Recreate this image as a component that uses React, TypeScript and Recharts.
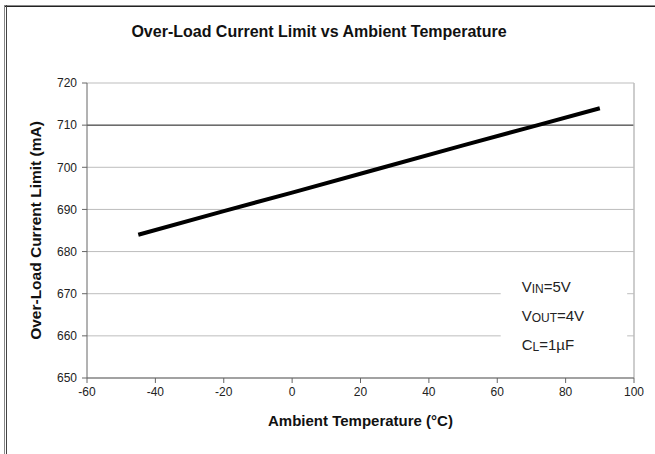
import React from 'react';
import {
  LineChart,
  Line,
  XAxis,
  YAxis,
  CartesianGrid,
  ReferenceLine,
  ReferenceArea,
  Label,
} from 'recharts';

// ambient temperature (°C) and measured limit (mA)
const temperature = [-45, -20, 0, 25, 50, 70, 90];
const currentLimit = [684, 689.6, 694, 699.6, 705.2, 709.6, 714];

const xTicks = [-60, -40, -20, 0, 20, 40, 60, 80, 100];
const yTicks = [650, 660, 670, 680, 690, 700, 710, 720];

const data = temperature.map((t, i) => ({ t, mA: currentLimit[i] }));

const FONT = '"Liberation Sans", Arial, sans-serif';

const renderNote = ({ viewBox }: any) => {
  const x = viewBox.x + 21;
  const y = viewBox.y;
  const lines: [string, string, string][] = [
    ['V', 'IN', '=5V'],
    ['V', 'OUT', '=4V'],
    ['C', 'L', '=1\u00B5F'],
  ];
  return (
    <g>
      {lines.map(([a, sub, b], i) => (
        <text
          key={i}
          x={x}
          y={y + 5 + i * 29}
          fontFamily={FONT}
          fontSize={15}
          fill="#222"
          dominantBaseline="central"
        >
          <tspan>{a}</tspan>
          <tspan fontSize={12} dy={3}>{sub}</tspan>
          <tspan dy={-3}>{b}</tspan>
        </text>
      ))}
    </g>
  );
};

const OverLoadChart: React.FC = () => {
  return (
    <div style={{ position: 'absolute', left: 0, top: 0, width: 655, height: 454, background: '#fff' }}>
      {/* frame */}
      <div style={{ position: 'absolute', left: 4, top: 5, right: 0, height: 1, background: '#888' }} />
      <div style={{ position: 'absolute', left: 4, top: 6, right: 0, height: 1, background: '#222' }} />
      <div style={{ position: 'absolute', left: 4, top: 5, bottom: 0, width: 1, background: '#888' }} />
      <div style={{ position: 'absolute', left: 6, top: 5, bottom: 0, width: 1, background: '#444' }} />
      <div
        style={{
          position: 'absolute',
          left: 0,
          width: 638,
          top: 23,
          textAlign: 'center',
          fontFamily: FONT,
          fontWeight: 'bold',
          fontSize: 16,
          color: '#111',
        }}
      >
        Over-Load Current Limit vs Ambient Temperature
      </div>
      <LineChart
        width={655}
        height={454}
        data={data}
        margin={{ top: 83, right: 21, bottom: 46, left: 27 }}
        style={{ position: 'absolute', left: 0, top: 0 }}
      >
        <CartesianGrid horizontal vertical={false} stroke="#bdbdbd" strokeWidth={1} />
        <ReferenceLine y={710} stroke="#333" strokeWidth={1} />
        <ReferenceLine x={100} stroke="#bdbdbd" strokeWidth={1.5} />
        <XAxis
          dataKey="t"
          type="number"
          domain={[-60, 100]}
          ticks={xTicks}
          height={30}
          stroke="#666"
          tickSize={5}
          tickMargin={4}
          tick={{ fontFamily: FONT, fontSize: 12, fill: '#222' }}
        >
          <Label
            value="Ambient Temperature (°C)"
            position="insideBottom"
            offset={-18}
            style={{ fontFamily: FONT, fontSize: 15, fontWeight: 'bold', fill: '#111' }}
          />
        </XAxis>
        <YAxis
          type="number"
          domain={[650, 720]}
          ticks={yTicks}
          width={60}
          stroke="#666"
          tickSize={5}
          tickMargin={5}
          interval={0}
          tick={{ fontFamily: FONT, fontSize: 12, fill: '#222' }}
        >
          <Label
            value="Over-Load Current Limit (mA)"
            angle={-90}
            position="insideLeft"
            offset={8}
            style={{ textAnchor: 'middle', fontFamily: FONT, fontSize: 15.5, fontWeight: 'bold', fill: '#111' }}
          />
        </YAxis>
        <ReferenceArea
          x1={61}
          x2={98}
          y1={656.3}
          y2={673}
          fill="#fff"
          fillOpacity={1}
          stroke="none"
          label={renderNote}
        />
        <Line
          type="linear"
          dataKey="mA"
          stroke="#000"
          strokeWidth={4}
          dot={false}
          isAnimationActive={false}
        />
      </LineChart>
    </div>
  );
};

export default function App() {
  return <OverLoadChart />;
}
